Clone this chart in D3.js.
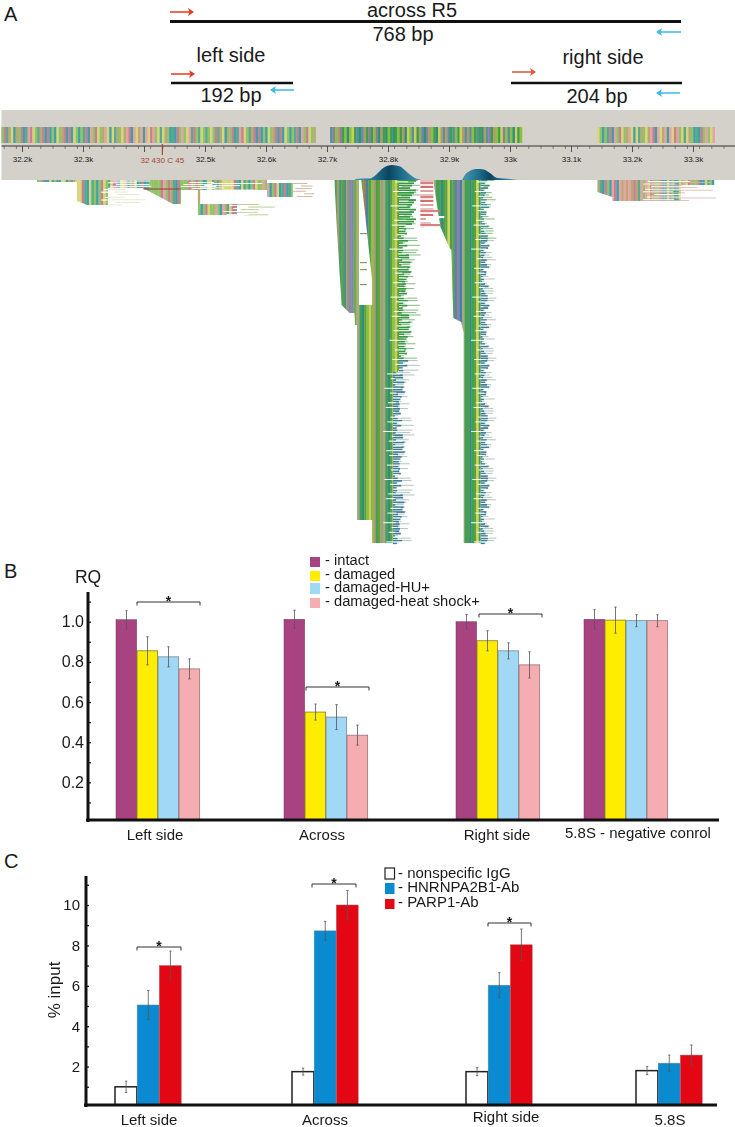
<!DOCTYPE html>
<html><head><meta charset="utf-8">
<script src="https://cdnjs.cloudflare.com/ajax/libs/d3/7.8.5/d3.min.js"></script>
<style>html,body{margin:0;background:#fff}svg{display:block}text{font-family:"Liberation Sans",Arial,sans-serif;fill:#1a1a1a}</style>
</head><body><svg id="c" width="735" height="1127"></svg>
<script>
// ---------- Panel B data
const catsB=["Left side","Across","Right side","5.8S - negative conrol"];
const seriesB=["- intact","- damaged","- damaged-HU+","- damaged-heat shock+"];
const intact=[1.01,1.012,1.0,1.012];
const damaged=[0.855,0.55,0.905,1.008];
const damagedHU=[0.825,0.525,0.855,1.005];
const damagedHS=[0.765,0.435,0.785,1.005];
const errIntact=[0.045,0.045,0.036,0.048];
const errDamaged=[0.07,0.04,0.05,0.065];
const errHU=[0.05,0.062,0.04,0.03];
const errHS=[0.05,0.05,0.065,0.03];
const ticksB=[0.2,0.4,0.6,0.8,1.0];
// ---------- Panel C data
const catsC=["Left side","Across","Right side","5.8S"];
const seriesC=["- nonspecific IgG","- HNRNPA2B1-Ab","- PARP1-Ab"];
const igg=[1.0,1.75,1.75,1.8];
const hnrnp=[5.05,8.72,6.03,2.17];
const parp=[7.0,10.0,8.03,2.57];
const errIgg=[0.28,0.17,0.2,0.2];
const errHnrnp=[0.72,0.47,0.62,0.4];
const errParp=[0.72,0.72,0.78,0.5];
const ticksC=[2,4,6,8,10];
// ---------- Panel A data (genome position kb, read depth)
const genomeTicks=[32.2,32.3,32.4,32.5,32.6,32.7,32.8,32.9,33.0,33.1,33.2,33.3];
const genomeLabels=["32.2k","32.3k","","32.5k","32.6k","32.7k","32.8k","32.9k","33k","33.1k","33.2k","33.3k"];
const consensus=[[32.166,32.680],[32.705,33.016],[33.143,33.335]];
const peak1=[[32.746,1],[32.757,1.5],[32.770,1.5],[32.780,5],[32.792,12],[32.8066,15],[32.82,13.5],[32.831,8],[32.844,2],[32.856,0]];
const peak2=[[32.9213,0],[32.926,5],[32.934,9],[32.946,11],[32.957,10.5],[32.967,7],[32.979,2],[33.0,1],[33.013,0]];
const pileLow=[[[32.2246,0],[32.29,0],[32.29,2],[32.2246,2]],
 [[32.29,0],[32.341,0],[32.341,25],[32.3066,25],[32.29,21]],
 [[32.341,0],[32.4607,0],[32.4607,24],[32.4475,24],[32.398,8],[32.341,8]],
 [[32.4607,0],[32.492,0],[32.492,10],[32.4607,10]],
 [[32.488,10],[32.492,10],[32.492,24],[32.488,24]],
 [[32.492,0],[32.6016,0],[32.6016,10],[32.492,10]],
 [[32.4885,24],[32.5525,24],[32.5525,35],[32.4885,35]],
 [[32.6016,3],[32.644,3],[32.644,17],[32.6016,17]],
 [[33.143,0],[33.28,0],[33.28,21],[33.168,21],[33.168,17],[33.143,12]],
 [[33.28,0],[33.335,0],[33.335,5],[33.28,5]]];
const pileA=[[32.712,0],[32.752,0],[32.752,145],[32.746,145],[32.745,133],[32.737,133],[32.724,125],[32.717,57]];
const pileB=[[32.749,125],[32.776,125],[32.776,340],[32.749,340]];
const pileC=[[32.756,0],[32.818,0],[32.818,190],[32.808,200],[32.808,363],[32.774,363],[32.774,100],[32.76,20]];
const pileD=[[32.874,0],[32.952,0],[32.952,363],[32.924,363],[32.924,153],[32.920,142],[32.907,138],[32.904,70],[32.901,68],[32.886,47]];
const stripeTape="0213405126301452036120543102635014203561240315026413052163402510362041530126043512063142";
const readColours=["#3f9e4a","#8bbf3f","#5a8fa0","#b09a6a","#8a7fa0","#2e8f7a","#c9cf5a"];
const pastelColours=["#8fc46a","#d9d67a","#3fa0a8","#c77f92","#e6a3a3","#5aa88f","#b9a873"];
const columnsA=["#4e9e5e","#a89a70","#3f9a6a","#5aa04a","#4f8f8a","#9a9a70","#8a88a8","#7f86b0","#6aa85a","#a8b060"];
const columnsMain=["#a8a888","#4a9e50","#2f8f7a","#5fa23c","#8bc040","#c8cf55","#5fa23c","#9a7f5a","#4f7fa0","#4a9a4a","#8bc040","#b0986a","#4a9e50","#5fa23c","#9aa070"];
const columnsSecond=["#a8a888","#4a9e50","#4a9e50","#2f8f7a","#4a9e50","#5fa23c","#d0d860","#4a9e50","#5f9f50","#5f7fa8","#8a7fa0","#3f7fa8"];
const columnsRed=["#e8c0c0","#d98080","#f6e8e8","#d07070","#ffffff","#e0a0a0","#ffffff"];
const frayWidths=[26,12,19,8,23,15,29,10,17,6,21,14,27,9,18,24,11,16,30,7,20,13,25,5,22];
const whiteDash=[6,0,10,3,0,14,5,0,8,12,0,4,9,0,16,2,7,0,11];
const gapMarks=[53,82,89,104];

// ---------- Layout
const svg=d3.select("#c");
const xG=d3.scaleLinear().domain([32.2,33.3]).range([22,693]);
const yD=d3.scaleLinear().domain([0,363]).range([180,543]);

// schematic
const RED="#e23a1c",CYAN="#3cb8e8";
const defs=svg.append("defs");
defs.append("filter").attr("id","soft").attr("x","-2%").attr("y","-2%").attr("width","104%").attr("height","104%")
  .append("feGaussianBlur").attr("stdDeviation",0.45);
function arrow(x1,x2,y,c){
  const d=x2>x1?1:-1;
  svg.append("line").attr("x1",x1).attr("x2",x2-d*3).attr("y1",y).attr("y2",y).attr("stroke",c).attr("stroke-width",1.5);
  svg.append("path").attr("d",`M${x2},${y}l${-d*6},-4l${d*1.5},4l${-d*1.5},4z`).attr("fill",c);
}
const schemLines=[[170,681,21.5,3],[171,293,83,2.6],[511,682,83,2.6]];
schemLines.forEach(l=>svg.append("line").attr("x1",l[0]).attr("x2",l[1]).attr("y1",l[2]).attr("y2",l[2]).attr("stroke","#111").attr("stroke-width",l[3]));
[[170,194,12,RED],[681,656,32,CYAN],[171,195,74,RED],[294,270,90,CYAN],[512,536,72,"#d9553a"],[680,656,93,CYAN]].forEach(a=>arrow(...a));
function label(t,x,y,size,anchor){
  return svg.append("text").attr("x",x).attr("y",y).attr("text-anchor",anchor||"middle").attr("font-size",size).text(t);
}
[["across R5",412,17],["768 bp",403,41],["left side",231,62],["192 bp",231,102],["right side",603,64],["204 bp",597,103]].forEach(d=>label(d[0],d[1],d[2],20));
[["A",4,21],["B",4,578],["C",4,868]].forEach(d=>label(d[0],d[1],d[2],20,"start"));

// grey band
svg.append("rect").attr("x",1.5).attr("y",110).attr("width",733.5).attr("height",70).attr("fill","#d4d1ca");

// consensus strip
const tape=Array.from(stripeTape,Number);
const gStrip=svg.append("g").attr("filter","url(#soft)");
consensus.forEach((r,ri)=>{
  const x0=xG(r[0]),x1=xG(r[1]);
  gStrip.selectAll(null).data(d3.range(x0,x1,2.4)).join("rect")
   .attr("x",d=>d).attr("y",127).attr("width",2.6).attr("height",16)
   .attr("fill",(d,i)=>(ri==1?readColours:pastelColours)[tape[(i*3+ri)%tape.length]]);
});
// ruler
svg.append("g").attr("transform","translate(0,146)")
  .call(d3.axisBottom(xG).tickValues(d3.range(32.17,33.37,0.02)).tickSize(3).tickFormat(""))
  .call(g=>{g.select(".domain").attr("stroke","#333").attr("d","M1.5,0H735");g.selectAll("line").attr("stroke","#555").attr("stroke-width",.7)});
svg.append("g").attr("transform","translate(0,146)")
  .call(d3.axisBottom(xG).tickValues(genomeTicks).tickSize(6).tickPadding(4).tickFormat((d,i)=>genomeLabels[i]))
  .call(g=>{g.select(".domain").remove();g.selectAll("line").attr("stroke","#333").attr("stroke-width",.8);
    g.selectAll("text").attr("font-size",8).attr("fill","#333").attr("font-family","Liberation Sans")});
svg.append("line").attr("x1",xG(32.43)).attr("x2",xG(32.43)).attr("y1",144).attr("y2",155).attr("stroke","#a33020");
svg.append("text").attr("x",xG(32.43)).attr("y",163).attr("text-anchor","middle").attr("font-size",8).style("fill","#a8452f").text("32 430 C 45");

// reads
const poly=d=>"M"+d.map(p=>xG(p[0])+","+yD(p[1])).join("L")+"Z";
const readsG=svg.append("g").attr("filter","url(#soft)");
let clipId=0;
function pile(pts,pal,step,shift,shuffled){
  const id="p"+(clipId++);
  defs.append("clipPath").attr("id",id).append("path").attr("d",poly(pts));
  const ex=d3.extent(pts,p=>xG(p[0])),ey=d3.extent(pts,p=>yD(p[1]));
  readsG.append("g").attr("clip-path",`url(#${id})`)
   .selectAll("rect").data(d3.range(ex[0],ex[1],step)).join("rect")
   .attr("x",d=>d).attr("y",ey[0]).attr("width",step+.3).attr("height",ey[1]-ey[0])
   .attr("fill",(d,i)=>shuffled?pal[tape[(i*5+shift)%tape.length]]:pal[(i+shift)%pal.length]);
}
pileLow.forEach((p,i)=>pile(p,pastelColours,2.4,i*7,true));
pile(pileA,columnsA,2.4,0);
pile(pileB,columnsMain,2.4,0);
pile(pileC,columnsMain,2.4,6);
pile(pileD,columnsSecond,2.4,0);

// rows of white / pale dashes across the sparse piles
function rowsOver(k0,d0,d1,step,colour,h,scale,off){
  const rows=d3.range(d0,d1,step);
  readsG.append("g").selectAll("rect").data(rows).join("rect")
   .attr("x",(d,i)=>xG(k0)+whiteDash[(i+off)%whiteDash.length]*.8).attr("y",d=>yD(d))
   .attr("height",h).attr("width",(d,i)=>frayWidths[(i*2+off)%frayWidths.length]*scale+6).attr("fill",colour);
}
rowsOver(32.341,0.5,8,1.8,"#fff",1,1.2,0);
rowsOver(32.33,9,25,2.6,"#fff",1.2,1.4,3);
rowsOver(32.341,9,25,2.6,"#dfe6c8",.8,1.2,7);
rowsOver(32.4607,2,10,2,"#fff",.9,1,2);
rowsOver(32.492,3,10,2.2,"#fff",.9,3,5);
rowsOver(32.644,3,17,2.6,"#c8b0a0",.9,.7,1);
rowsOver(32.5525,24,35,2.6,"#b8c890",.9,.7,4);
rowsOver(32.53,25,35,3,"#fff",.9,.9,8);
rowsOver(33.218,1,21,2.6,"#fff",1,1.4,0);
rowsOver(33.218,2,21,2.6,"#d8b8b0",.8,2,6);
svg.append("line").attr("x1",xG(32.399)).attr("x2",xG(32.46)).attr("y1",yD(9)).attr("y2",yD(9)).attr("stroke","#9a3a28").attr("stroke-width",1);
readsG.append("g").selectAll("rect").data(gapMarks).join("rect").attr("x",xG(32.754)).attr("y",d=>yD(d)).attr("width",7).attr("height",1.2).attr("fill","#8a9a70");

// frayed right edges of the deep piles
function frays(edge,maxD,scale,topCol,lowCol,switchD,k,denseD,denseW){
  const rows=d3.range(0,maxD,2.4);
  const g=readsG.append("g");
  g.selectAll("rect.p").data(rows).join("rect").attr("class","p")
   .attr("x",d=>edge(d)).attr("y",d=>yD(d)).attr("height",1.1)
   .attr("width",(d,i)=>frayWidths[(i*k)%frayWidths.length]*scale)
   .attr("fill",d=>d<switchD?"#8fc090":"#b9ccc4");
  g.selectAll("rect.s").data(rows).join("rect").attr("class","s")
   .attr("x",d=>edge(d)).attr("y",d=>yD(d)).attr("height",1.7)
   .attr("width",(d,i)=>d<denseD?denseW-(i%4)*2:frayWidths[(i*k+4)%frayWidths.length]*scale*.55)
   .attr("fill",d=>d<switchD?topCol:lowCol);
  g.selectAll("rect.w").data(rows.filter((d,i)=>i%2==0)).join("rect").attr("class","w")
   .attr("x",(d,i)=>edge(d)-whiteDash[i%whiteDash.length]*.6).attr("y",d=>yD(d)+1.4).attr("height",1)
   .attr("width",(d,i)=>whiteDash[i%whiteDash.length]*.6+frayWidths[(i*3)%frayWidths.length]*.35).attr("fill","#fff");
}
frays(d=>d<190?xG(32.818):xG(32.808),363,.72,"#35973f","#3f7f98",180,3,45,17);
frays(()=>xG(32.952),363,.52,"#3f8f8a","#3f7f98",60,7,0,0);

// the red fragment column beside the main pile
const redRows=d3.range(0,48,2);
readsG.append("g").selectAll("rect").data(redRows).join("rect")
 .attr("x",xG(32.853)).attr("y",d=>yD(d)).attr("height",2.1)
 .attr("width",(d,i)=>d<30?13:frayWidths[i%frayWidths.length]*.8)
 .attr("fill",(d,i)=>columnsRed[i%columnsRed.length]);

// peaks
const areaP=d3.area().x(d=>xG(d[0])).y0(180).y1(d=>180-d[1]).curve(d3.curveMonotoneX);
const grad=defs.append("linearGradient").attr("id","pk").attr("x1",0).attr("x2",1).attr("y1",0).attr("y2",0);
[["0","#4a9ab0"],["0.3","#1f6f8c"],["0.5","#0a4460"],["0.7","#1f6f8c"],["1","#4a9ab0"]].forEach(s=>grad.append("stop").attr("offset",s[0]).attr("stop-color",s[1]));
[peak1,peak2].forEach(p=>svg.append("path").attr("d",areaP(p)).attr("fill","url(#pk)"));

// ---------- bar panel helper
function barPanel(o){
  const y=d3.scaleLinear().domain(o.domain).range(o.yRange);
  const x0=d3.scaleOrdinal().domain(o.cats).range(o.starts);
  const x1=d3.scaleBand().domain(d3.range(o.values.length)).range([0,o.groupW]);
  const g=svg.append("g");
  o.values.forEach((vals,s)=>{
    g.selectAll(null).data(o.cats).join("rect")
     .attr("x",c=>x0(c)+x1(s)).attr("width",x1.bandwidth()-.3)
     .attr("y",(c,i)=>y(vals[i])).attr("height",(c,i)=>o.base-y(vals[i]))
     .attr("fill",o.colours[s]).attr("stroke",o.strokes[s]).attr("stroke-width",o.strokeW[s]);
    const e=g.append("g").attr("stroke","#555").attr("stroke-width",.8);
    o.cats.forEach((c,i)=>{
      const cx=x0(c)+x1(s)+x1.bandwidth()/2;
      e.append("line").attr("x1",cx).attr("x2",cx).attr("y1",y(vals[i]+o.errs[s][i])).attr("y2",y(vals[i]-o.errs[s][i]));
      [1,-1].forEach(sg=>e.append("line").attr("x1",cx-1.2).attr("x2",cx+1.2).attr("y1",y(vals[i]+sg*o.errs[s][i])).attr("y2",y(vals[i]+sg*o.errs[s][i])));
    });
  });
  const ax=svg.append("g").attr("transform",`translate(${o.axisX},0)`);
  ax.call(d3.axisRight(y).tickValues(o.minor).tickSize(3).tickFormat(""))
    .call(a=>{a.select(".domain").remove();a.selectAll("line").attr("stroke","#222").attr("stroke-width",1.3)});
  svg.append("line").attr("x1",o.axisX).attr("x2",o.axisX).attr("y1",o.axisTop).attr("y2",o.base+2).attr("stroke","#111").attr("stroke-width",3);
  svg.append("line").attr("x1",o.axisX-2).attr("x2",o.baseEnd).attr("y1",o.base).attr("y2",o.base).attr("stroke","#111").attr("stroke-width",3.2);
  const lab=svg.append("g").attr("transform",`translate(${o.axisX-3},0)`)
    .call(d3.axisLeft(y).tickValues(o.ticks).tickSize(0).tickPadding(o.pad).tickFormat(o.fmt));
  lab.select(".domain").remove();
  lab.selectAll("text").attr("font-size",o.tickSize).attr("font-family","Liberation Sans").attr("fill","#1a1a1a");
  o.brackets.forEach(b=>{
    svg.append("path").attr("d",`M${b[0]},${b[2]+3.5}V${b[2]}H${b[1]}V${b[2]+3.5}`).attr("fill","none").attr("stroke","#333").attr("stroke-width",1);
    svg.append("text").attr("x",(b[0]+b[1])/2).attr("y",b[2]+4).attr("text-anchor","middle").attr("font-size",14).attr("font-weight","bold").text("*");
  });
  o.cats.forEach((c,i)=>label(c,o.labelX[i],o.labelY[i],o.labelSize));
  o.series.forEach((s,i)=>{
    svg.append("rect").attr("x",o.lgX).attr("y",o.lgY[i]).attr("width",o.lgW).attr("height",o.lgH[i])
      .attr("fill",o.colours[i]).attr("stroke",o.lgStroke[i]).attr("stroke-width",o.lgStrokeW);
    label(s,o.lgTextX,o.lgBase[i],o.lgSize,"start");
  });
}
barPanel({
  cats:catsB,series:seriesB,values:[intact,damaged,damagedHU,damagedHS],errs:[errIntact,errDamaged,errHU,errHS],
  domain:[0,1],yRange:[822.5,621.7],base:820,starts:[116,284,456,584],groupW:84,
  colours:["#a94281","#ffed00","#a0d8f5","#f5adb2"],strokes:["#6b4060","#6d6a30","#6d7d88","#8a6a6c"],strokeW:[.5,.7,.7,.7],
  axisX:88,axisTop:592,baseEnd:719,minor:d3.range(0.1,1.15,0.1),ticks:ticksB,fmt:d3.format(".1f"),pad:1,tickSize:16,
  brackets:[[137,200,602],[306,369,687],[479,542,614]],
  labelX:[155,322,497,638],labelY:[840,840,840,838],labelSize:15,
  lgX:310,lgY:[557,571,583,598],lgW:10,lgH:[10,10,11,10],lgStroke:["none","none","none","none"],lgStrokeW:0,
  lgTextX:325,lgBase:[565,579,592,606],lgSize:14.7
});
label("RQ",88,583,17.5);
barPanel({
  cats:catsC,series:seriesC,values:[igg,hnrnp,parp],errs:[errIgg,errHnrnp,errParp],
  domain:[0,10],yRange:[1107,905],base:1105,starts:[115,292,466,636],groupW:66.5,
  colours:["#fff","#0a8ad0","#e30613"],strokes:["#222","#6a8a9a","#a06068"],strokeW:[1.5,.5,.5],
  axisX:86,axisTop:876,baseEnd:717,minor:d3.range(1,12,1),ticks:ticksC,fmt:d3.format("d"),pad:3,tickSize:15,
  brackets:[[137,181,947],[312,356,884],[488,531,923]],
  labelX:[149,325,506,670],labelY:[1125,1125,1122,1125],labelSize:15,
  lgX:385,lgY:[868,883,899],lgW:9.5,lgH:[11,11,10],lgStroke:["#222","none","none"],lgStrokeW:1.2,
  lgTextX:398,lgBase:[878,892,907],lgSize:15
});
svg.append("text").attr("transform","translate(60,990) rotate(-90)").attr("text-anchor","middle").attr("font-size",17).text("% input");
</script></body></html>
